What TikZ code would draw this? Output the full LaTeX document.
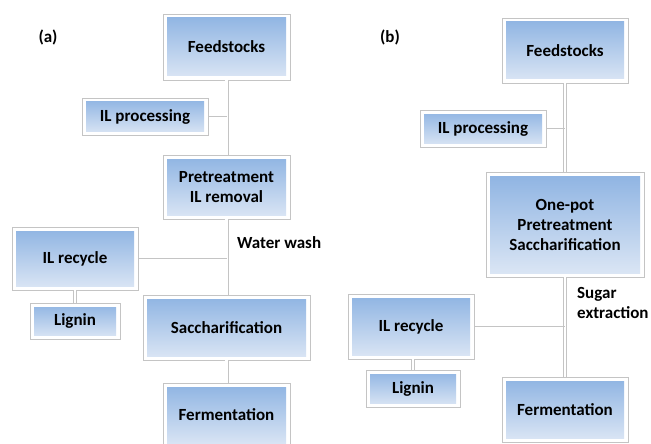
\documentclass[tikz,border=0pt]{standalone}
\usepackage{fontspec}
\setmainfont{Carlito}
\usetikzlibrary{shadows}
\definecolor{btop}{HTML}{8DB3E2}
\definecolor{bbot}{HTML}{DDE7F5}
\definecolor{lin}{HTML}{C4C4C4}
\tikzset{
  x=1pt, y=-1pt,
  box/.style={draw=lin, line width=0.8pt, fill=white, inner sep=0pt, align=center,
    font=\fontsize{17}{20}\selectfont\bfseries,
    drop shadow={shadow xshift=1.2pt, shadow yshift=-1.2pt, opacity=0.35, fill=gray},
    path picture={\shade[top color=btop, bottom color=bbot]
      ([shift={(4pt,-4pt)}]path picture bounding box.north west) rectangle
      ([shift={(-4pt,4pt)}]path picture bounding box.south east);}},
  dbl/.style={draw=lin, line width=0.7pt, double=white, double distance=2.6pt},
  sgl/.style={draw=lin, line width=1.3pt},
  lab/.style={font=\fontsize{17}{20}\selectfont\bfseries, inner sep=0pt},
}
\begin{document}
\begin{tikzpicture}
\useasboundingbox[fill=white] (0,0) rectangle (651,444);
% panel (a)
\node[lab] (la) at (48,37) {(a)};
\node[box, minimum width=127pt, minimum height=66pt] (FA) at (226.5,47) {Feedstocks};
\node[box, minimum width=126pt, minimum height=37pt] (IPA) at (145,116.5) {IL processing};
\node[box, minimum width=127pt, minimum height=64pt] (PTA) at (226.5,187) {Pretreatment\\IL removal};
\node[box, minimum width=126pt, minimum height=63pt] (IRA) at (75,258.5) {IL recycle};
\node[box, minimum width=90pt, minimum height=36pt] (LGA) at (75,321) {Lignin};
\node[box, minimum width=167pt, minimum height=65pt] (SCA) at (226.5,327.5) {Saccharification};
\node[box, minimum width=127pt, minimum height=64pt] (FRA) at (226.5,415) {Fermentation};
\node[lab, anchor=west] (ww) at (237,243) {Water wash};
\draw[dbl] (FA.south) -- (PTA.north);
\draw[dbl] (PTA.south) -- (SCA.north);
\draw[dbl] (SCA.south) -- (FRA.north);
\draw[dbl] (IRA.south) -- (LGA.north);
\draw[sgl] (IPA.east) -- (IPA.east -| FA.south);
\draw[sgl] (IRA.east) -- (IRA.east -| FA.south);
% panel (b)
\node[lab] (lb) at (390,37) {(b)};
\node[box, minimum width=126pt, minimum height=65pt] (FB) at (565,50.5) {Feedstocks};
\node[box, minimum width=126pt, minimum height=37pt] (IPB) at (483,128.5) {IL processing};
\node[box, minimum width=158pt, minimum height=105pt] (OPB) at (565,224.5) {One-pot\\Pretreatment\\Saccharification};
\node[box, minimum width=126pt, minimum height=65pt] (IRB) at (411,326.5) {IL recycle};
\node[box, minimum width=94pt, minimum height=37pt] (LGB) at (413,388.5) {Lignin};
\node[box, minimum width=126pt, minimum height=65pt] (FRB) at (565,409.5) {Fermentation};
\node[lab, anchor=west, align=left] (se) at (577,303) {Sugar\\extraction};
\draw[dbl] (FB.south) -- (OPB.north);
\draw[dbl] (OPB.south) -- (FRB.north);
\draw[dbl] (IRB.south -| LGB.north) -- (LGB.north);
\draw[sgl] (IPB.east) -- (IPB.east -| FB.south);
\draw[sgl] (IRB.east) -- (IRB.east -| FB.south);
\end{tikzpicture}
\end{document}
